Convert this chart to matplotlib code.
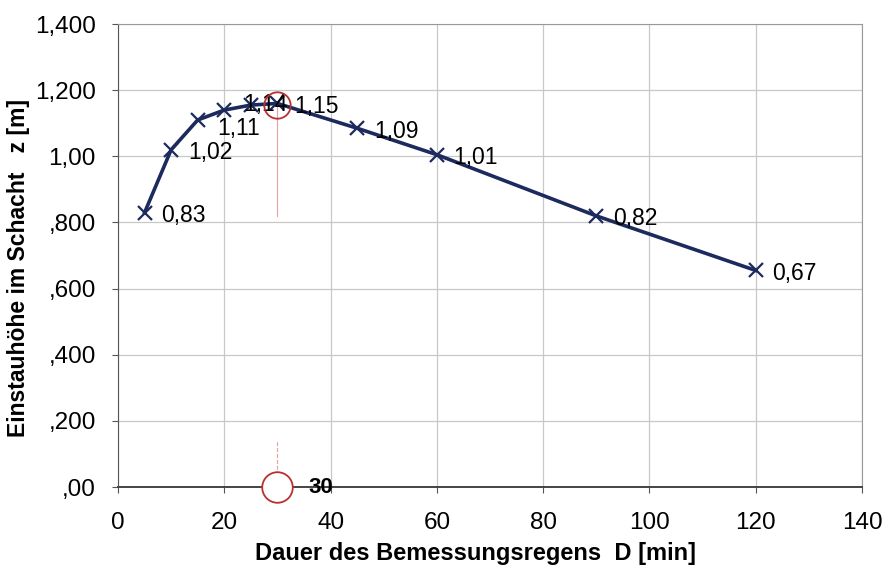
""" Einstauhöhe über Regendauer """

import matplotlib.pyplot as plt

# Messwerte
dauer = [5, 10, 15, 20, 25, 30, 45, 60, 90, 120]
einstau = [0.83, 1.02, 1.11, 1.14, 1.155, 1.16, 1.085, 1.005, 0.82, 0.655]
beschriftung = ['0,83', '1,02', '1,11', '1,14', '', '1,15', '1,09', '1,01', '0,82', '0,67']

x_ticks = [0, 20, 40, 60, 80, 100, 120, 140]
y_ticks = [0.0, 0.2, 0.4, 0.6, 0.8, 1.0, 1.2, 1.4]
y_ticklabels = [',00', ',200', ',400', ',600', ',800', '1,00', '1,200', '1,400']

maximum_x = 30
maximum_y = 1.155

plt.rcParams['font.family'] = ['Liberation Sans', 'DejaVu Sans']

fig = plt.figure(figsize=(8.9, 5.73), dpi=100)
ax = fig.add_axes([0.1326, 0.150, 0.8359, 0.808])

line_color = '#1c2a5e'

# Hilfslinie zum Maximum
ax.plot([maximum_x, maximum_x], [0.82, maximum_y], color='#e8a0a0', lw=0.8, zorder=2)
ax.plot([maximum_x, maximum_x], [0.0, 0.14], color='#e8a0a0', lw=0.8, ls='--', zorder=2)

ax.plot(dauer, einstau, color=line_color, lw=2.6, marker='x', markersize=10,
        markeredgewidth=1.6, zorder=3)

# Versatz der Beschriftungen (Punkte)
versatz = {'1,11': (14, -6), '1,14': (14, 4)}
for xv, yv, txt in zip(dauer, einstau, beschriftung):
    if txt:
        dx, dy = versatz.get(txt, (12, -2))
        ax.annotate(txt, (xv, yv), xytext=(dx, dy), textcoords='offset points',
                    fontsize=16.5, va='center', ha='left', color='black', zorder=4)

# Markierung Maximum
ax.plot([maximum_x], [maximum_y], marker='o', markersize=19, markerfacecolor='none',
        markeredgecolor='#b83030', markeredgewidth=1.3, zorder=5, clip_on=False)
ax.plot([maximum_x], [0.0], marker='o', markersize=22, markerfacecolor='white',
        markeredgecolor='#b83030', markeredgewidth=1.3, zorder=5, clip_on=False)
ax.annotate('30', (maximum_x, 0.0), xytext=(22, 0), textcoords='offset points',
            fontsize=16, fontweight='bold', va='center', ha='left', zorder=6)

ax.set_xlim(0, 140)
ax.set_ylim(0, 1.4)
ax.set_xticks(x_ticks)
ax.set_yticks(y_ticks)
ax.set_yticklabels(y_ticklabels)
ax.tick_params(labelsize=17.5, length=4, color='#555555')
ax.tick_params(axis='y', pad=12)
ax.tick_params(axis='x', pad=14)

ax.grid(True, color='#c8c8c8', lw=0.9)
ax.set_axisbelow(True)
for side in ['top', 'right']:
    ax.spines[side].set_color('#999999')
ax.spines['left'].set_color('#555555')
ax.spines['bottom'].set_color('#444444')
ax.spines['bottom'].set_linewidth(1.4)

ax.set_xlabel('Dauer des Bemessungsregens  D [min]', fontsize=17, fontweight='bold')
ax.set_ylabel('Einstauhöhe im Schacht   z [m]', fontsize=16.5, fontweight='bold')
ax.xaxis.set_label_coords(0.48, -0.118)
ax.yaxis.set_label_coords(-0.118, 0.473)

fig.savefig('out.png', dpi=100)
